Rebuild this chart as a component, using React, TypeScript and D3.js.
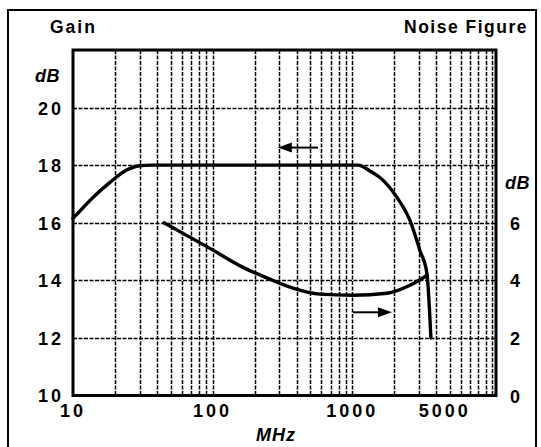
import { useEffect, useRef } from 'react'
import * as d3 from 'd3'

// gain (left axis, dB) vs frequency (MHz)
const GAIN = [
  [10, 16.15], [13.9, 16.88], [18.4, 17.4], [24, 17.82], [30, 17.98], [36, 18.0],
  [100, 18.0], [500, 18.0], [1100, 18.0], [1337, 17.8], [1578, 17.57],
  [2090, 16.88], [2590, 16.08], [3050, 15.04], [3425, 14.24], [3657, 12.0],
]

// noise figure (right axis, dB) vs frequency (MHz)
const NOISE = [
  [44.8, 6.0], [95.7, 5.11], [165, 4.45], [257, 4.04], [376, 3.73],
  [586, 3.52], [1011, 3.48], [1771, 3.55], [2590, 3.83], [3425, 4.17],
]

const GAIN_TICKS = [10, 12, 14, 16, 18, 20]
const NF_TICKS = [0, 2, 4, 6]
const FREQ_LABELS = [10, 100, 1000, 5000]
const GRID_Y = [12, 14, 16, 18, 20]

const FONT = '"Liberation Sans", Arial, Helvetica, sans-serif'

export default function App() {
  const svgRef = useRef<SVGSVGElement>(null)

  useEffect(() => {
    const svg = d3.select(svgRef.current)
    svg.selectAll('*').remove()

    const left = 73, right = 496, top = 50, bottom = 395.5

    const x = d3.scaleLog().domain([10, 10700]).range([left, right])
    const y = d3.scaleLinear().domain([10, 22]).range([bottom, top])
    const yNf = d3.scaleLinear().domain([0, 12]).range([bottom, top])

    // outer frame
    svg.append('rect')
      .attr('x', 8).attr('y', 10).attr('width', 528).attr('height', 460)
      .attr('fill', 'none').attr('stroke', '#000').attr('stroke-width', 2)

    // vertical grid: 2..9 per decade plus decades
    const vLines: number[] = []
    for (const dec of [10, 100, 1000]) {
      for (let m = 1; m <= 10; m++) {
        const v = dec * m
        if (v > 10 && v < 10700) vLines.push(v)
      }
    }
    const grid = svg.append('g')
      .attr('stroke', '#000').attr('stroke-width', 1.5)
      .attr('stroke-dasharray', '4,1.5')
    grid.selectAll('line.v').data(Array.from(new Set(vLines)))
      .enter().append('line')
      .attr('x1', d => Math.round(x(d)) + 0.5).attr('x2', d => Math.round(x(d)) + 0.5)
      .attr('y1', top).attr('y2', bottom)
    grid.selectAll('line.h').data(GRID_Y)
      .enter().append('line')
      .attr('x1', left).attr('x2', right)
      .attr('y1', d => Math.round(y(d)) + 0.5).attr('y2', d => Math.round(y(d)) + 0.5)

    // plot border
    svg.append('rect')
      .attr('x', left).attr('y', top)
      .attr('width', right - left).attr('height', bottom - top)
      .attr('fill', 'none').attr('stroke', '#000').attr('stroke-width', 3)

    const line = d3.line<number[]>()
      .x(d => x(d[0]))
      .curve(d3.curveMonotoneX)

    svg.append('path')
      .attr('d', line.y(d => y(d[1]))(GAIN))
      .attr('fill', 'none').attr('stroke', '#000').attr('stroke-width', 3.4)
      .attr('stroke-linecap', 'round')

    svg.append('path')
      .attr('d', line.y(d => yNf(d[1]))(NOISE))
      .attr('fill', 'none').attr('stroke', '#000').attr('stroke-width', 3.4)
      .attr('stroke-linecap', 'round')

    // arrows
    const arrow = (x1: number, x2: number, yy: number) => {
      const dir = Math.sign(x2 - x1)
      svg.append('line')
        .attr('x1', x1).attr('x2', x2 - dir * 10)
        .attr('y1', yy).attr('y2', yy)
        .attr('stroke', '#000').attr('stroke-width', 2)
      svg.append('path')
        .attr('d', `M${x2},${yy} L${x2 - dir * 14},${yy - 5} L${x2 - dir * 14},${yy + 5} Z`)
        .attr('fill', '#000')
    }
    arrow(x(568), x(293), y(18.61))
    arrow(x(1011), x(1923), yNf(2.89))

    const text = (tx: number, ty: number, s: string, opts: any = {}) =>
      svg.append('text')
        .attr('x', tx).attr('y', ty)
        .attr('font-family', FONT)
        .attr('font-weight', 'bold')
        .attr('font-size', opts.size ?? 18)
        .attr('font-style', opts.italic ? 'italic' : 'normal')
        .attr('letter-spacing', opts.ls ?? 2)
        .attr('text-anchor', opts.anchor ?? 'start')
        .attr('fill', '#000')
        .text(s)

    // titles
    text(50, 33, 'Gain', { size: 17.5 })
    text(528, 33, 'Noise Figure', { size: 17.5, anchor: 'end', ls: 1.5 })

    // left axis
    text(60, 82, 'dB', { italic: true, ls: 0.5, anchor: 'end' })
    GAIN_TICKS.forEach(t => {
      const off = t === 10 ? -1 : 0
      text(64, y(t) + 7 + off, String(t), { anchor: 'end', ls: 3 })
    })

    // right axis
    text(505, yNf(7.4) + 7, 'dB', { italic: true, ls: 0.5 })
    NF_TICKS.forEach(t => {
      text(515, yNf(t) + 7, String(t), { anchor: 'middle', ls: 0 })
    })

    // bottom axis
    FREQ_LABELS.forEach(t => {
      text(x(t) - (t === 5000 ? 5 : 0), 417, String(t), { anchor: 'middle', ls: 3 })
    })
    text(276, 441, 'MHz', { italic: true, anchor: 'middle', ls: 1 })
  }, [])

  return (
    <svg
      ref={svgRef}
      width={541}
      height={447}
      style={{ position: 'absolute', left: 0, top: 0, background: '#fff' }}
    />
  )
}
